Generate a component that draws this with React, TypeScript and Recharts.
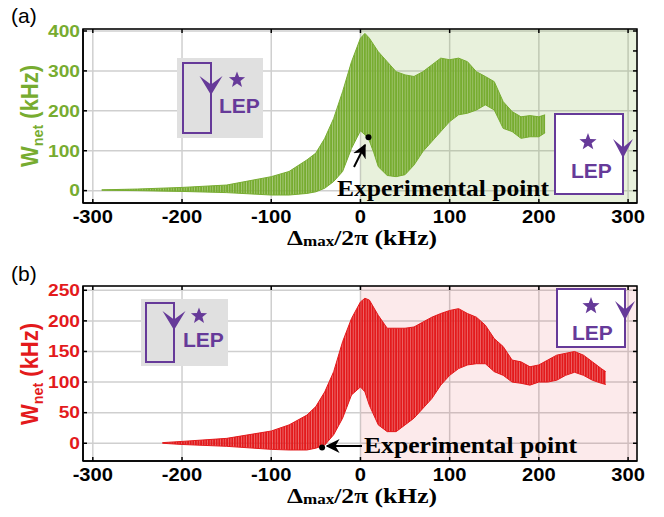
import React from 'react';
import { ComposedChart, Area, XAxis, YAxis, CartesianGrid, ReferenceArea, ReferenceDot } from 'recharts';

// ---------- data ----------
const xTicks = [-300, -200, -100, 0, 100, 200, 300];
const yTicksA = [0, 50, 100, 150, 200, 250, 300, 350, 400];
const yTicksB = [0, 50, 100, 150, 200, 250];

// panel (a): envelope of the fast-oscillating W_net trace
const detuningA = [-290, -250, -200, -150, -100, -80, -60, -50, -40, -30, -20, -10, 0, 5, 10, 15, 20, 30, 40, 50, 60, 70, 80, 90, 100, 110, 120, 130, 140, 150, 160, 170, 180, 190, 200, 207];
const upperA = [2, 4, 8, 14, 35, 48, 77, 94, 131, 181, 248, 323, 382, 394, 382, 365, 348, 323, 298, 290, 286, 298, 315, 332, 328, 332, 323, 298, 286, 273, 223, 198, 185, 188, 185, 190];
const lowerA = [1, 0, -2, -5, -11, -11, -7, -3, 6, 23, 48, 106, 150, 140, 125, 95, 60, 38, 35, 40, 64, 98, 123, 148, 173, 190, 194, 202, 215, 202, 156, 148, 131, 135, 135, 145];

// panel (b)
const detuningB = [-222, -200, -150, -100, -80, -60, -50, -40, -30, -20, -10, 0, 5, 10, 20, 30, 40, 50, 60, 70, 80, 90, 100, 110, 120, 130, 140, 150, 160, 170, 180, 190, 200, 210, 220, 230, 240, 250, 260, 270, 275];
const upperB = [1, 3, 8, 20, 30, 46, 60, 84, 117, 166, 204, 231, 237, 234, 209, 188, 188, 188, 190, 198, 206, 212, 217, 220, 212, 206, 193, 171, 158, 136, 133, 125, 128, 136, 144, 147, 150, 144, 133, 122, 117];
const lowerB = [0, -2, -5, -10, -11, -11, -8, -3, 14, 41, 79, 92, 84, 62, 30, 19, 19, 30, 41, 57, 73, 95, 111, 122, 128, 130, 130, 117, 111, 100, 98, 95, 100, 100, 103, 111, 116, 111, 103, 98, 96];

const experimentalA = [9, 134];
const experimentalB = [-43, -7];
const shadeFrom = 0;

// ---------- style ----------
const GREEN = '#77AC30';
const RED = '#E31A1C';
const PURPLE = '#663A99';
const SANS = "'Liberation Sans', Arial, sans-serif";
const SERIF = "'Liberation Serif', 'Times New Roman', serif";
const X_DOMAIN: [number, number] = [-311, 310];
const Y_DOMAIN_A: [number, number] = [-31, 405];
const Y_DOMAIN_B: [number, number] = [-29, 257];

// plot-area geometry (shared by chart margins and the frame overlay)
const PLOT_LEFT = 83;
const PLOT_W = 554;
const A_TOP = 29;
const A_H = 174;
const B_OFFSET = 258;
const B_TOP_LOCAL = 28;
const B_H = 175;

const rowsA = detuningA.map((x, i) => ({ x, range: [lowerA[i], upperA[i]] }));
const rowsB = detuningB.map((x, i) => ({ x, range: [lowerB[i], upperB[i]] }));

function naturalWidth(s: string, fs: number) {
  let w = 0;
  for (const c of s) w += c === '-' ? 0.333 : 0.556;
  return w * fs;
}

function XTick(props: any) {
  const { x, y, payload } = props;
  const s = String(payload.value);
  return (
    <text x={x} y={y} textAnchor="middle" fontFamily={SANS} fontWeight="bold" fontSize={18} fill="#000"
      textLength={naturalWidth(s, 18) * 1.12} lengthAdjust="spacingAndGlyphs">{s}</text>
  );
}

function makeYTick(color: string) {
  return (props: any) => {
    const { x, y, payload } = props;
    const s = String(payload.value);
    return (
      <text x={x} y={y} dy={5.8} textAnchor="end" fontFamily={SANS} fontWeight="bold" fontSize={16} fill={color}
        textLength={naturalWidth(s, 16) * 1.2} lengthAdjust="spacingAndGlyphs">{s}</text>
    );
  };
}

type PanelProps = {
  rows: { x: number; range: number[] }[];
  color: string;
  pattern: string;
  yDomain: [number, number];
  yTicks: number[];
  shadeOpacity: number;
  exp: number[];
  height: number;
  top: number;
  plotH: number;
};

function Panel({ rows, color, pattern, yDomain, yTicks, shadeOpacity, exp, height, top, plotH }: PanelProps) {
  const xAxisH = 30;
  const bottom = height - top - plotH - xAxisH;
  return (
    <ComposedChart width={664} height={height} data={rows}
      margin={{ top, right: 664 - PLOT_LEFT - PLOT_W, bottom, left: PLOT_LEFT - 70 }}>
      <CartesianGrid stroke="#cfcfcf" strokeWidth={1.5} />
      <ReferenceArea x1={shadeFrom} x2={X_DOMAIN[1]} fill={color} fillOpacity={shadeOpacity} stroke="none" ifOverflow="hidden" />
      <XAxis
        type="number"
        dataKey="x"
        domain={X_DOMAIN}
        ticks={xTicks}
        allowDataOverflow
        height={xAxisH}
        tickSize={-4}
        tickMargin={24}
        stroke="#000"
        strokeWidth={1.5}
        tickLine={{ stroke: '#000' }}
        tick={<XTick />}
      />
      <YAxis
        type="number"
        domain={yDomain}
        ticks={yTicks}
        allowDataOverflow
        width={70}
        tickSize={-4}
        tickMargin={7}
        stroke="#000"
        strokeWidth={1.5}
        tickLine={{ stroke: '#000' }}
        tick={makeYTick(color)}
      />
      <Area
        type="linear"
        dataKey="range"
        stroke={color}
        strokeWidth={1}
        fill={`url(#${pattern})`}
        fillOpacity={1}
        isAnimationActive={false}
        dot={false}
        activeDot={false}
      />
      <ReferenceDot x={exp[0]} y={exp[1]} r={3} fill="#000" stroke="none" ifOverflow="visible" />
    </ComposedChart>
  );
}

// frame with inward ticks on the top and right edges
function Frame({ top, h, yDomain, yTicks }: { top: number; h: number; yDomain: [number, number]; yTicks: number[] }) {
  const xs = xTicks.map((v) => PLOT_LEFT + ((v - X_DOMAIN[0]) / (X_DOMAIN[1] - X_DOMAIN[0])) * PLOT_W);
  const ys = yTicks.map((v) => top + ((yDomain[1] - v) / (yDomain[1] - yDomain[0])) * h);
  const right = PLOT_LEFT + PLOT_W;
  return (
    <g stroke="#000" strokeWidth={1.5} fill="none">
      <rect x={PLOT_LEFT} y={top} width={PLOT_W} height={h} />
      {xs.map((x, i) => <line key={'t' + i} x1={x} x2={x} y1={top} y2={top + 4} />)}
      {ys.map((y, i) => <line key={'r' + i} x1={right} x2={right - 4} y1={y} y2={y} />)}
    </g>
  );
}

function starPath(cx: number, cy: number, R: number, r: number) {
  const pts: string[] = [];
  for (let i = 0; i < 10; i++) {
    const a = ((-90 + i * 36) * Math.PI) / 180;
    const rad = i % 2 === 0 ? R : r;
    pts.push(`${(cx + rad * Math.cos(a)).toFixed(2)},${(cy + rad * Math.sin(a)).toFixed(2)}`);
  }
  return 'M' + pts.join('L') + 'Z';
}

function arrowHead(ax: number, tip: number, w: number, h: number) {
  return `M${ax},${tip} L${ax - w},${tip - h} L${ax},${tip - h * 0.55} L${ax + w},${tip - h} Z`;
}

function LeftInset({ bx, by, bw, bh, rx, ry, rw, rh, tip, sx, sy, lx, ly }: any) {
  return (
    <g>
      <rect x={bx} y={by} width={bw} height={bh} fill="#e0e0e0" />
      <rect x={rx} y={ry} width={rw} height={rh} fill="none" stroke={PURPLE} strokeWidth={2} />
      <path d={arrowHead(rx + rw, tip, 11.5, 19)} fill={PURPLE} />
      <path d={starPath(sx, sy, 8.5, 3.6)} fill={PURPLE} />
      <text x={lx} y={ly} fill={PURPLE} fontFamily={SANS} fontWeight="bold" fontSize={21}>LEP</text>
    </g>
  );
}

function RightInset({ bx, by, bw, bh, tip, sx, sy, lx, ly }: any) {
  return (
    <g>
      <rect x={bx} y={by} width={bw} height={bh} fill="#fff" stroke={PURPLE} strokeWidth={2} />
      <path d={arrowHead(bx + bw, tip, 10, 19)} fill={PURPLE} />
      <path d={starPath(sx, sy, 9, 3.8)} fill={PURPLE} />
      <text x={lx} y={ly} fill={PURPLE} fontFamily={SANS} fontWeight="bold" fontSize={21}>LEP</text>
    </g>
  );
}

function XTitle({ y }: { y: number }) {
  return (
    <text x={287} y={y} fontFamily={SERIF} fontWeight="bold" fontSize={21} fill="#000" textLength={150} lengthAdjust="spacingAndGlyphs">
      Δ<tspan fontSize={14} dy={1}>max</tspan>
      <tspan dy={-1}>/2π (kHz)</tspan>
    </text>
  );
}

function YTitle({ cy, color }: { cy: number; color: string }) {
  return (
    <text transform={`translate(38,${cy}) rotate(-90)`} x={-51} y={0} fontFamily={SANS} fontWeight="bold" fontSize={23} fill={color}
      textLength={102} lengthAdjust="spacingAndGlyphs">
      W<tspan fontSize={15} dy={5}>net</tspan>
      <tspan dy={-5}> (kHz)</tspan>
    </text>
  );
}

export default function App() {
  return (
    <div style={{ position: 'absolute', left: 0, top: 0, width: 664, height: 517, background: '#fff' }}>
      <svg width={0} height={0} style={{ position: 'absolute' }}>
        <defs>
          <pattern id="stripeG" width="2.6" height="10" patternUnits="userSpaceOnUse">
            <rect width="2.6" height="10" fill={GREEN} fillOpacity={0.6} />
            <rect width="1.8" height="10" fill={GREEN} />
          </pattern>
          <pattern id="stripeR" width="2.6" height="10" patternUnits="userSpaceOnUse">
            <rect width="2.6" height="10" fill={RED} fillOpacity={0.6} />
            <rect width="1.8" height="10" fill={RED} />
          </pattern>
        </defs>
      </svg>
      <div style={{ position: 'absolute', left: 0, top: 0 }}>
        <Panel rows={rowsA} color={GREEN} pattern="stripeG" yDomain={Y_DOMAIN_A} yTicks={yTicksA} shadeOpacity={0.17} exp={experimentalA} height={258} top={A_TOP} plotH={A_H} />
      </div>
      <div style={{ position: 'absolute', left: 0, top: B_OFFSET }}>
        <Panel rows={rowsB} color={RED} pattern="stripeR" yDomain={Y_DOMAIN_B} yTicks={yTicksB} shadeOpacity={0.09} exp={experimentalB} height={259} top={B_TOP_LOCAL} plotH={B_H} />
      </div>
      <svg width={664} height={517} style={{ position: 'absolute', left: 0, top: 0, pointerEvents: 'none' }}>
        <defs>
          <marker id="ah" viewBox="0 0 10 10" refX="9" refY="5" markerWidth="7" markerHeight="7" orient="auto">
            <path d="M0,0 L10,5 L0,10 L3,5 Z" fill="#000" />
          </marker>
        </defs>
        <Frame top={A_TOP} h={A_H} yDomain={Y_DOMAIN_A} yTicks={yTicksA} />
        <Frame top={B_OFFSET + B_TOP_LOCAL} h={B_H} yDomain={Y_DOMAIN_B} yTicks={yTicksB} />

        <text x={11} y={23} fontFamily={SANS} fontSize={21} fill="#000">(a)</text>
        <text x={11} y={281} fontFamily={SANS} fontSize={21} fill="#000">(b)</text>
        <YTitle cy={116} color={GREEN} />
        <YTitle cy={374} color={RED} />
        <XTitle y={245} />
        <XTitle y={503} />

        <LeftInset bx={177} by={58} bw={86} bh={80} rx={183} ry={63} rw={28} rh={70} tip={95} sx={237} sy={80} lx={219} ly={113} />
        <RightInset bx={555} by={114} bw={68} bh={80} tip={158} sx={588} sy={142} lx={571} ly={178} />
        <LeftInset bx={141} by={299} bw={87} bh={67} rx={146} ry={303} rw={28} rh={59} tip={330} sx={199} sy={316} lx={183} ly={347} />
        <RightInset bx={557} by={289} bw={68} bh={58} tip={320} sx={591} sy={306} lx={572} ly={340} />

        <line x1={354} y1={167} x2={365} y2={145} stroke="#000" strokeWidth={2} markerEnd="url(#ah)" />
        <text x={337} y={196} fontFamily={SERIF} fontWeight="bold" fontSize={24} fill="#000" textLength={212} lengthAdjust="spacingAndGlyphs">Experimental point</text>
        <line x1={362} y1={446} x2={327} y2={446} stroke="#000" strokeWidth={2} markerEnd="url(#ah)" />
        <text x={364} y={453} fontFamily={SERIF} fontWeight="bold" fontSize={24} fill="#000" textLength={213} lengthAdjust="spacingAndGlyphs">Experimental point</text>
      </svg>
    </div>
  );
}
